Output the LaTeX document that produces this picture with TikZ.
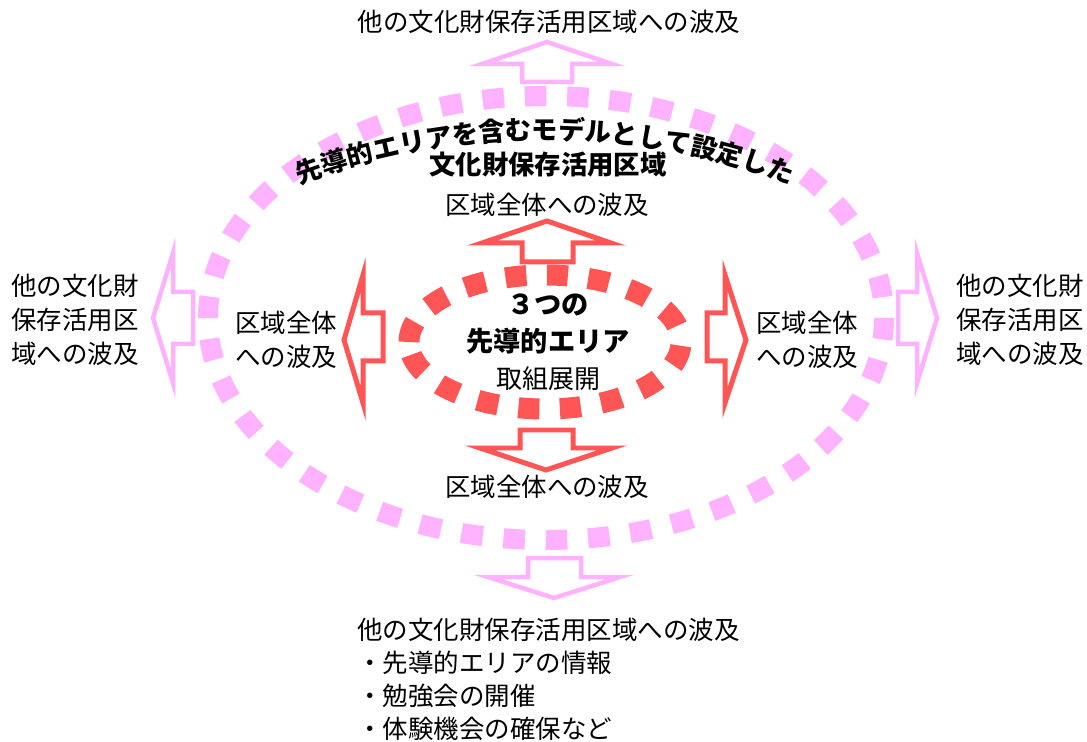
\documentclass[tikz,border=0pt]{standalone}
\usepackage{fontspec}
\setmainfont{Noto Sans CJK JP}
\usepackage{xcolor}
\usetikzlibrary{decorations.text}

\definecolor{areapink}{RGB}{255,178,255}
\definecolor{areared}{RGB}{255,85,85}

\begin{document}
\begin{tikzpicture}[
    x=0.02cm, y=-0.02cm,
    label/.style     ={inner sep=0pt, align=center,
                       font=\fontsize{14.5}{19.3}\selectfont},
    sidelabel/.style ={label, align=left},
    titletext/.style ={inner sep=0pt, font=\fontsize{15}{18}\selectfont\bfseries},
    outerring/.style ={areapink, line width=0.4cm, dash pattern=on 0.43cm off 0.417cm},
    innerring/.style ={areared, line width=0.42cm, dash pattern=on 0.42cm off 0.41cm},
    pinkarrow/.style ={draw=areapink, fill=white, line width=0.09cm, line join=miter},
    redarrow/.style  ={draw=areared, fill=white, line width=0.1cm, line join=miter}
]
\useasboundingbox (0,0) rectangle (1087,742);

% =================== Dashed rings ===================
\draw[outerring, rotate around={180:(546,318)}] (546,318) ellipse (338 and 222);
\draw[innerring, rotate around={180:(545,342)}] (545,342) ellipse (136 and 67);

% =================== Outer (pink) arrows ===================
\draw[pinkarrow] (522,82) -- (522,64) -- (482,64) -- (547,42) -- (612,64)
    -- (572,64) -- (572,82) -- cycle;
\draw[pinkarrow] (528,558) -- (528,577) -- (488,577) -- (554,598) -- (620,577)
    -- (581,577) -- (581,558) -- cycle;
\draw[pinkarrow] (193,292) -- (173,292) -- (173,253) -- (153,318) -- (173,383)
    -- (173,344) -- (193,344) -- cycle;
\draw[pinkarrow] (898,292) -- (917,292) -- (917,253) -- (937,318) -- (917,383)
    -- (917,344) -- (898,344) -- cycle;

% =================== Inner (red) arrows ===================
\draw[redarrow] (522,262) -- (522,243) -- (482,243) -- (547,221) -- (611,243)
    -- (573,243) -- (573,262) -- cycle;
\draw[redarrow] (520,430) -- (520,448) -- (480,448) -- (546,470) -- (612,448)
    -- (573,448) -- (573,430) -- cycle;
\draw[redarrow] (383,313) -- (363,313) -- (363,275) -- (344,340) -- (363,403)
    -- (363,361) -- (383,361) -- cycle;
\draw[redarrow] (707,313) -- (725,313) -- (725,275) -- (746,340) -- (725,403)
    -- (725,361) -- (707,361) -- cycle;

% =================== Title on the ring ===================
\path[decorate, decoration={text along path, text align=center,
      text={|\fontsize{15}{18}\selectfont\bfseries|先導的エリアを含むモデルとして設定した}}]
    (545,840) ++(250:700) arc (250:290:700);
\node[titletext] (title) at (548,165) {文化財保存活用区域};

% =================== Centre ===================
\node[label, font=\fontsize{15.5}{21}\selectfont] (core) at (548,342)
    {\textbf{３つの}\\\textbf{先導的エリア}\\{\fontsize{14.8}{21}\selectfont 取組展開}};

% =================== Inner labels ===================
\node[label] (areaup)    at (547,205) {区域全体への波及};
\node[label] (areadown)  at (547,487) {区域全体への波及};
\node[label] (arealeft)  at (286,340) {区域全体\\への波及};
\node[label] (arearight) at (807,340) {区域全体\\への波及};

% =================== Outer labels ===================
\node[label] (otherup) at (549,22) {他の文化財保存活用区域への波及};
\node[sidelabel] (otherleft)  at (75,320)   {他の文化財\\保存活用区\\域への波及};
\node[sidelabel] (otherright) at (1020,320) {他の文化財\\保存活用区\\域への波及};
\node[sidelabel, font=\fontsize{14.5}{18.8}\selectfont, anchor=west] (otherdown)
    at (357,679)
    {他の文化財保存活用区域への波及\\・先導的エリアの情報\\・勉強会の開催\\・体験機会の確保など};

\end{tikzpicture}
\end{document}
